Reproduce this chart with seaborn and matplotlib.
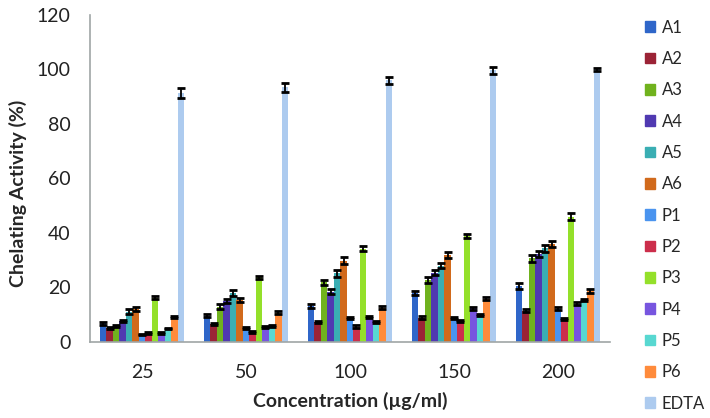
import pandas as pd
import numpy as np
import matplotlib.pyplot as plt
import seaborn as sns

# data
concentrations = ['25', '50', '100', '150', '200']
series = ['A1', 'A2', 'A3', 'A4', 'A5', 'A6', 'P1', 'P2', 'P3', 'P4', 'P5', 'P6', 'EDTA']

a1 = [6.8, 9.7, 13.2, 17.9, 20.6]
a2 = [5.2, 6.6, 7.2, 8.9, 11.5]
a3 = [5.8, 13.0, 21.9, 22.8, 30.7]
a4 = [7.7, 15.0, 18.5, 25.5, 32.3]
a5 = [11.1, 18.0, 25.2, 28.0, 34.4]
a6 = [12.0, 15.3, 29.9, 32.0, 35.9]
p1 = [2.9, 5.2, 8.7, 8.8, 12.2]
p2 = [3.3, 3.7, 5.6, 7.8, 8.3]
p3 = [16.3, 23.7, 34.3, 38.9, 46.0]
p4 = [3.3, 5.5, 9.2, 12.4, 14.1]
p5 = [4.8, 5.9, 7.2, 10.0, 15.4]
p6 = [9.2, 10.7, 12.6, 15.9, 18.7]
edta = [91.5, 93.5, 96.0, 99.7, 100.0]

a1_err = [0.5, 0.5, 0.8, 0.8, 1.0]
a2_err = [0.4, 0.4, 0.4, 0.5, 0.6]
a3_err = [0.4, 0.8, 1.0, 1.2, 1.2]
a4_err = [0.5, 0.8, 0.8, 1.0, 1.0]
a5_err = [1.0, 1.0, 1.2, 1.0, 1.2]
a6_err = [0.8, 0.8, 1.2, 1.2, 1.2]
p1_err = [0.2, 0.3, 0.4, 0.4, 0.5]
p2_err = [0.2, 0.3, 0.5, 0.4, 0.4]
p3_err = [0.5, 0.7, 0.8, 0.8, 1.2]
p4_err = [0.2, 0.3, 0.5, 0.5, 0.5]
p5_err = [0.2, 0.3, 0.4, 0.4, 0.4]
p6_err = [0.4, 0.5, 0.5, 0.6, 0.8]
edta_err = [1.8, 1.6, 1.3, 1.2, 0.7]

colors = ['#2f66c9', '#9b2336', '#70b21e', '#5039b1', '#3aaeb3', '#d16a1c',
          '#4a94ef', '#cc2e4b', '#94e02a', '#7755df', '#58d8d1', '#ff8b3b', '#adcbef']

values = [a1, a2, a3, a4, a5, a6, p1, p2, p3, p4, p5, p6, edta]
errors = [a1_err, a2_err, a3_err, a4_err, a5_err, a6_err, p1_err, p2_err,
          p3_err, p4_err, p5_err, p6_err, edta_err]

rows = []
for name, vals, errs in zip(series, values, errors):
    for c, v, e in zip(concentrations, vals, errs):
        rows.append({'conc': c, 'sample': name, 'value': v, 'err': e})
df = pd.DataFrame(rows)

sns.set_style('white')
plt.rcParams['font.family'] = ['Lato', 'DejaVu Sans']

fig = plt.figure(figsize=(7.1, 4.18), dpi=100)
ax = fig.add_axes([90 / 710, 76 / 418, 520 / 710, 327 / 418])

sns.barplot(data=df, x='conc', y='value', hue='sample', order=concentrations,
            hue_order=series, palette=colors, width=0.81, errorbar=None,
            saturation=1, linewidth=0, ax=ax, legend=False)

# error bars at the bar centres
for cont, name in zip(ax.containers, series):
    sub = df[df['sample'] == name].set_index('conc').loc[concentrations]
    xs = [b.get_x() + b.get_width() / 2 for b in cont]
    ax.errorbar(xs, sub['value'], yerr=sub['err'], fmt='none', ecolor='black',
                elinewidth=1.3, capsize=3, capthick=2)

ax.set_ylim(0, 120)
ax.set_yticks(range(0, 121, 20))
ax.set_xlim(-0.5, 4.5)
for s in ['top', 'right']:
    ax.spines[s].set_visible(False)
for s in ['left', 'bottom']:
    ax.spines[s].set_color('#a0a6a6')
    ax.spines[s].set_linewidth(1.2)
ax.tick_params(axis='y', length=5, width=1.2, colors='#a0a6a6', labelsize=14, pad=9)
for t in ax.get_yticklabels():
    t.set_color('#222222')
ax.tick_params(axis='x', length=0, labelsize=14, pad=16)
for t in ax.get_xticklabels():
    t.set_color('#222222')
ax.set_xlabel('Concentration (µg/ml)', fontsize=14, fontweight='bold', labelpad=8)
ax.set_ylabel('Chelating Activity (%)', fontsize=14, fontweight='bold')
ax.yaxis.set_label_coords(-0.122, 0.456)

handles = [plt.Rectangle((0, 0), 1, 1, color=c) for c in colors]
fig.legend(handles, series, loc='upper left', bbox_to_anchor=(645 / 710, 0.953),
           frameon=False, fontsize=12, handlelength=0.6, handleheight=0.6,
           labelspacing=0.92, handletextpad=0.4, borderpad=0, borderaxespad=0)

plt.savefig('out.png', dpi=100)
